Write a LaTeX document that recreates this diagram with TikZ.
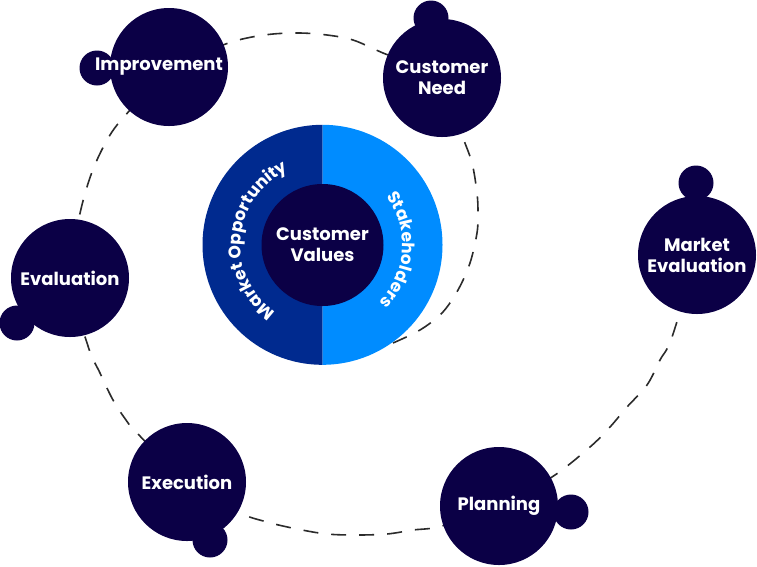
\documentclass[tikz,border=0pt]{standalone}
\usepackage{fontspec}
\setmainfont{Poppins}
\usetikzlibrary{decorations.text,backgrounds}
\definecolor{navy}{HTML}{0B0046}
\definecolor{darkblue}{HTML}{002A8F}
\definecolor{lightblue}{HTML}{008CFF}
\definecolor{dashgrey}{HTML}{2B2B2B}
\begin{document}
\begin{tikzpicture}[x=1pt,y=1pt,
  bub/.style={circle, fill=navy, minimum size=118pt, inner sep=0pt},
  lbl/.style={text=white, inner sep=0pt, font=\fontsize{18}{21}\selectfont\bfseries, align=center},
  knob/.style={circle, fill=navy, minimum size=35pt, inner sep=0pt},
  spiral/.style={draw=dashgrey, line width=1.6pt, dash pattern=on 15pt off 13pt},
  ringtext/.style={decorate, decoration={text along path, text align=center,
    text={|\fontsize{17}{17}\selectfont\bfseries\color{white}|#1}}}]
\useasboundingbox (0,0) rectangle (757,-566);
% bubbles
\node[knob] (impk) at (97,-68) {};
\node[bub] (imp) at (169,-67) {};
\node[lbl] at ([xshift=-10pt]imp.center) {Improvement};
\node[knob] (cnk) at (431,-18) {};
\node[bub] (cn) at (442,-78) {};
\node[lbl] at (cn.center) {Customer\\Need};
\node[knob] (evk) at (17,-323) {};
\node[bub] (ev) at (70,-278) {};
\node[lbl] at (ev.center) {Evaluation};
\node[knob] (exk) at (210,-540) {};
\node[bub] (ex) at (187,-482) {};
\node[lbl] at (ex.center) {Execution};
\node[knob] (plk) at (571,-512) {};
\node[bub] (pl) at (499,-506) {};
\node[lbl] at (pl.center) {Planning};
\node[knob] (mek) at (696,-183) {};
\node[bub] (me) at (697,-255) {};
\node[lbl] at (me.center) {Market\\Evaluation};
% central ring
\node[circle, minimum size=240pt, inner sep=0pt] (ring) at (322.5,-245) {};
\fill[darkblue] (ring.north) arc[start angle=90, end angle=270, radius=120pt] -- cycle;
\fill[lightblue] (ring.north) arc[start angle=90, end angle=-90, radius=120pt] -- cycle;
\node[circle, fill=navy, minimum size=122pt, inner sep=0pt] (cv) at (ring.center) {};
\node[lbl] at (cv.center) {Customer\\Values};
\path[ringtext=Market Opportunity] ([shift={(245:82pt)}]ring.center) arc[start angle=245, end angle=105, radius=82pt];
\path[ringtext=Stakeholders] ([shift={(52:80pt)}]ring.center) arc[start angle=52, end angle=-60, radius=80pt];
% spiral
\begin{scope}[on background layer]
\draw[spiral] plot[smooth, tension=0.55] coordinates {
  (393,-343) (420,-330) (442,-313) (458,-290) (470,-263) (477,-233) (478,-213)
  (477,-193) (472,-163) (462,-135) (cn.center) (383,-53) (353,-40) (327,-35)
  (300,-33) (273,-34) (247,-38) (223,-45) (imp.center) (130,-110) (110,-135)
  (92,-172) (79,-218) (ev.center) (88,-346) (100,-373) (113,-400) (126,-420)
  (137,-433) (ex.center) (238,-512) (267,-522) (297,-529) (327,-534) (357,-535)
  (387,-534) (413,-530) (442,-526) (pl.center) (552,-477) (590,-447) (610,-427)
  (627,-407) (647,-385) (660,-360) (672,-337) (me.center)};
\end{scope}
\end{tikzpicture}
\end{document}
